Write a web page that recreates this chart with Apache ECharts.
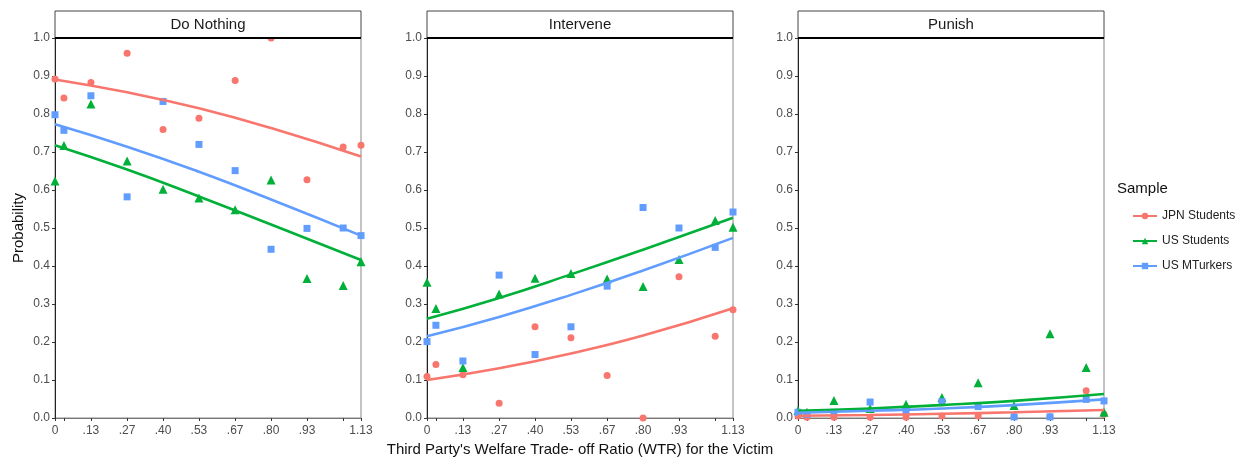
<!DOCTYPE html>
<html>
<head>
<meta charset="utf-8">
<script src="https://cdn.jsdelivr.net/npm/echarts@6/dist/echarts.min.js"></script>
<style>
  html, body { margin: 0; padding: 0; background: #fff; }
  #chart { width: 1242px; height: 457px; }
</style>
</head>
<body>
<div id="chart"></div>
<script>
// x positions (WTR) and tick labels
const wtr = [0, 0.033, 0.133, 0.267, 0.4, 0.533, 0.667, 0.8, 0.933, 1.067, 1.133];
const wtrLabels = ['0', '', '.13', '.27', '.40', '.53', '.67', '.80', '.93', '', '1.13'];
const panels = ['Do Nothing', 'Intervene', 'Punish'];
const groups = ['JPN Students', 'US Students', 'US MTurkers'];

// observed proportions
const doNothingJPN = [0.892, 0.842, 0.883, 0.960, 0.759, 0.789, 0.888, 1.000, 0.627, 0.713, 0.718];
const doNothingUS  = [0.624, 0.717, 0.826, 0.676, 0.602, 0.579, 0.548, 0.626, 0.367, 0.349, 0.411];
const doNothingMT  = [0.798, 0.757, 0.848, 0.582, 0.833, 0.720, 0.651, 0.444, 0.499, 0.500, 0.480];

const interveneJPN = [0.109, 0.141, 0.114, 0.039, 0.240, 0.211, 0.112, 0.000, 0.372, 0.215, 0.285];
const interveneUS  = [0.357, 0.288, 0.133, 0.326, 0.368, 0.380, 0.366, 0.346, 0.417, 0.520, 0.502];
const interveneMT  = [0.201, 0.244, 0.150, 0.376, 0.167, 0.240, 0.347, 0.554, 0.500, 0.449, 0.542];

const punishJPN = [0.005, 0.002, 0.002, 0.002, 0.002, 0.005, 0.005, 0.003, 0.003, 0.072, 0.010];
const punishUS  = [0.020, 0.015, 0.046, 0.025, 0.036, 0.054, 0.093, 0.033, 0.222, 0.133, 0.015];
const punishMT  = [0.015, 0.010, 0.015, 0.042, 0.020, 0.043, 0.030, 0.003, 0.003, 0.049, 0.045];

// fitted curves, read at a few x positions
const fitX = [0, 0.267, 0.533, 0.8, 1.133];
const fitDoNothingJPN = [0.891, 0.857, 0.815, 0.763, 0.688];
const fitDoNothingUS  = [0.718, 0.654, 0.583, 0.509, 0.416];
const fitDoNothingMT  = [0.773, 0.714, 0.648, 0.575, 0.480];
const fitInterveneJPN = [0.100, 0.131, 0.170, 0.217, 0.289];
const fitInterveneUS  = [0.261, 0.316, 0.378, 0.443, 0.527];
const fitInterveneMT  = [0.215, 0.266, 0.324, 0.388, 0.474];
const fitPunishJPN = [0.006, 0.008, 0.011, 0.015, 0.021];
const fitPunishUS  = [0.019, 0.025, 0.034, 0.045, 0.063];
const fitPunishMT  = [0.014, 0.019, 0.025, 0.034, 0.049];

const points = [
  [doNothingJPN, doNothingUS, doNothingMT],
  [interveneJPN, interveneUS, interveneMT],
  [punishJPN, punishUS, punishMT]
];
const fits = [
  [fitDoNothingJPN, fitDoNothingUS, fitDoNothingMT],
  [fitInterveneJPN, fitInterveneUS, fitInterveneMT],
  [fitPunishJPN, fitPunishUS, fitPunishMT]
];

const colors = ['#F8766D', '#00B038', '#619CFF'];
const symbols = ['circle', 'triangle', 'rect'];
const symbolSizes = [7, 9, 7];

// layout
const panelLeft = [55, 427, 798];
const panelWidth = 306;
const panelTop = 38;
const panelHeight = 380;
const stripTop = 11;
const font = 'Liberation Sans, Arial, sans-serif';

const chart = echarts.init(document.getElementById('chart'));

const grids = [], xAxes = [], yAxes = [], series = [], graphics = [];

panels.forEach((p, i) => {
  grids.push({
    left: panelLeft[i], top: panelTop, width: panelWidth, height: panelHeight,
    outerBoundsMode: 'none', containLabel: false,
    show: true, borderColor: '#888', borderWidth: 1, backgroundColor: '#fff'
  });
  xAxes.push({
    gridIndex: i, type: 'value', min: 0, max: 1.133,
    axisLine: { lineStyle: { color: '#777', width: 1 } },
    axisTick: { show: true, length: 3, lineStyle: { color: '#333' }, customValues: wtr },
    axisLabel: {
      color: '#4d4d4d', fontSize: 12, fontFamily: font, margin: 7,
      customValues: wtr,
      formatter: v => { const k = wtr.indexOf(v); return k >= 0 ? wtrLabels[k] : ''; }
    },
    splitLine: { show: false },
    name: i === 1 ? "Third Party's Welfare Trade- off Ratio (WTR) for the Victim" : '',
    nameLocation: 'middle', nameGap: 23,
    nameTextStyle: { color: '#111', fontSize: 15, fontFamily: font }
  });
  yAxes.push({
    gridIndex: i, type: 'value', min: 0, max: 1, interval: 0.1,
    axisLine: { show: true, lineStyle: { color: '#222', width: 1 } },
    axisTick: { show: true, length: 3, lineStyle: { color: '#333' } },
    axisLabel: { color: '#4d4d4d', fontSize: 12, fontFamily: font, margin: 5,
      formatter: v => v.toFixed(1) },
    splitLine: { show: false },
    name: i === 0 ? 'Probability' : '',
    nameLocation: 'middle', nameGap: 29,
    nameTextStyle: { color: '#111', fontSize: 15, fontFamily: font }
  });

  groups.forEach((g, j) => {
    series.push({
      name: g, type: 'line', xAxisIndex: i, yAxisIndex: i, z: 3,
      data: fitX.map((x, k) => [x, fits[i][j][k]]),
      smooth: true, showSymbol: false, symbol: symbols[j], symbolSize: 6,
      lineStyle: { color: colors[j], width: 2.6 },
      itemStyle: { color: colors[j] },
      silent: true, animation: false
    });
  });
  groups.forEach((g, j) => {
    series.push({
      name: g, type: 'scatter', xAxisIndex: i, yAxisIndex: i, z: 2,
      data: wtr.map((x, k) => [x, points[i][j][k]]),
      symbol: symbols[j], symbolSize: symbolSizes[j],
      itemStyle: { color: colors[j], opacity: 1 },
      clip: true, animation: false
    });
  });

  // facet strip
  graphics.push({
    type: 'rect', z: 10,
    shape: { x: panelLeft[i], y: stripTop, width: panelWidth, height: panelTop - stripTop },
    style: { fill: '#fff', stroke: '#444', lineWidth: 1 }
  });
  graphics.push({
    type: 'line', z: 11,
    shape: { x1: panelLeft[i], y1: panelTop, x2: panelLeft[i] + panelWidth, y2: panelTop },
    style: { stroke: '#000', lineWidth: 2 }
  });
  graphics.push({
    type: 'text', z: 12,
    x: panelLeft[i] + panelWidth / 2, y: (stripTop + panelTop) / 2,
    style: { text: p, fill: '#1a1a1a', font: '15px ' + font, align: 'center', verticalAlign: 'middle' }
  });
});

graphics.push({
  type: 'text', left: 1117, top: 181,
  style: { text: 'Sample', fill: '#111', font: '15px ' + font }
});

chart.setOption({
  backgroundColor: '#fff',
  animation: false,
  grid: grids,
  xAxis: xAxes,
  yAxis: yAxes,
  legend: {
    data: groups, orient: 'vertical', left: 1127, top: 205,
    itemWidth: 24, itemHeight: 8, itemGap: 13,
    textStyle: { color: '#222', fontSize: 12, fontFamily: font }
  },
  graphic: graphics,
  series: series
});
</script>
</body>
</html>
